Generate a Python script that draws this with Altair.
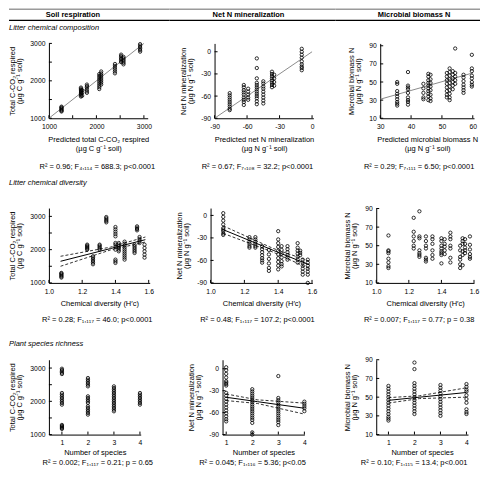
import altair as alt
import pandas as pd

FONT = "Liberation Sans"
SUB = str.maketrans("0123456789", "\u2080\u2081\u2082\u2083\u2084\u2085\u2086\u2087\u2088\u2089")

# ---------------- texts ----------------
col_headers = ["Soil respiration", "Net N mineralization", "Microbial biomass N"]
row_titles = ["Litter chemical composition", "Litter chemical diversity", "Plant species richness"]
y_titles = [["Total C-CO\u2082 respired", "(\u00b5g C g\u207b\u00b9 soil)"],
            ["Net N mineralization", "(\u00b5g N g\u207b\u00b9 soil)"],
            ["Microbial biomass N", "(\u00b5g N g\u207b\u00b9 soil)"]]
x_titles = [
    [["Predicted total C-CO\u2082 respired", "(\u00b5g C g\u207b\u00b9 soil)"],
     ["Predicted net N mineralization", "(\u00b5g N g\u207b\u00b9 soil)"],
     ["Predicted microbial biomass N", "(\u00b5g N g\u207b\u00b9 soil)"]],
    ["Chemical diversity (H\u2032c)"] * 3,
    ["Number of species"] * 3,
]
stat_r2 = [["0.96", "0.67", "0.29"], ["0.28", "0.48", "0.007"], ["0.002", "0.045", "0.10"]]
stat_df = [["4,114", "7,108", "7,111"], ["1,117", "1,117", "1,117"], ["1,117", "1,116", "1,115"]]
stat_f = [["688.3", "32.2", "6.50"], ["46.0", "107.2", "0.77"], ["0.21", "5.36", "13.4"]]
stat_p = [["p<0.0001", "p<0.0001", "p<0.0001"], ["p<0.0001", "p<0.0001", "p = 0.38"],
          ["p = 0.65", "p<0.05", "p<0.001"]]

# ---------------- data: row 1, litter chemical composition ----------------
resp_comp_x = [1265, 1675, 1700, 1800, 2060, 2100, 2390, 2520, 2570, 2920]
resp_comp_y = [
    [1180, 1200, 1220, 1245, 1270, 1290, 1310],
    [1580, 1610, 1640, 1670, 1700, 1730, 1760, 1790, 1820],
    [1600, 1680, 1750],
    [1680, 1720, 1770, 1820, 1860, 1900],
    [1780, 1830, 1880, 1930, 1980, 2030, 2080, 2130, 2180],
    [1900, 1950, 2000, 2050, 2100, 2150, 2200, 2250],
    [2200, 2250, 2300, 2350, 2400, 2450],
    [2500, 2540, 2580, 2620, 2660, 2700],
    [2440, 2480, 2520, 2560, 2600, 2640],
    [2780, 2820, 2860, 2900, 2940, 2980],
]
netn_comp_x = [-76, -63, -59, -51, -45, -37, -35, -9.5]
netn_comp_y = [
    [-56, -59, -62, -65, -68, -71, -74, -77, -79],
    [-45, -48, -52, -55, -58, -62, -65, -68, -72],
    [-50, -54, -58, -62, -65],
    [-9, -22, -36, -42, -45, -48, -51, -54, -57, -60, -63, -67, -71],
    [-40, -43, -47, -50, -54, -58, -62, -66, -70],
    [-27, -30, -33, -36, -39, -42, -45, -48],
    [-31, -36, -41, -46],
    [4, 0, -4, -8, -13, -17, -20, -22, -25],
]
mbn_comp_x = [35.5, 39, 44, 45.6, 46.3, 51.6, 52.5, 53.5, 54.3, 57, 59.7]
mbn_comp_y = [
    [50, 48, 40, 37, 34, 31, 28, 26, 24],
    [61, 46, 44, 42, 38, 33, 30, 28, 25],
    [48, 43, 38, 33, 31],
    [59, 56, 52, 49, 46, 43, 40, 37, 34, 30],
    [58, 53, 49, 45, 41, 36, 32, 29],
    [60, 56, 52, 48, 44, 40, 36, 33],
    [65, 61, 57, 53, 49, 45, 41, 37, 33, 30],
    [62, 58, 54, 50, 46, 42],
    [87, 60, 56, 52, 48],
    [58, 55, 51, 47, 44, 41, 38],
    [80, 65, 62, 57, 54, 50, 47, 45],
]
resp_comp_line_x, resp_comp_line_y = [1000, 3000], [1000, 3000]
netn_comp_line_x, netn_comp_line_y = [-90, 0], [-90, 0]
mbn_comp_line_x, mbn_comp_line_y = [30, 60], [31, 60]

# ---------------- data: row 2, litter chemical diversity ----------------
chem_div_x = [1.075, 1.23, 1.265, 1.305, 1.345, 1.40, 1.42, 1.455, 1.515, 1.53, 1.545, 1.575]
resp_div_y = [
    [1160, 1190, 1220, 1250, 1280, 1300],
    [2000, 2030, 2060, 2090, 2120, 2150],
    [1560, 1610, 1660, 1710, 1760, 1800],
    [2000, 2040, 2080, 2120, 2150],
    [2820, 2860, 2900, 2940, 2980],
    [1600, 1650, 1700, 2000, 2080, 2150, 2200, 2400, 2470, 2540, 2610, 2680],
    [1950, 2000, 2050, 2100, 2150, 2200],
    [1700, 1760, 1820, 1880, 1940, 2000, 2060, 2120, 2180, 2240],
    [1900, 1950, 2000, 2050, 2100, 2150],
    [2580, 2620, 2660, 2700],
    [2200, 2260, 2320, 2380],
    [1760, 1850, 1950, 2050, 2150],
]
netn_div_y = [
    [3, -2, -7, -12, -17, -19, -21, -24, -26],
    [-29, -32, -35, -38, -41, -43],
    [-29, -32, -35, -38, -41, -43],
    [-41, -45, -49, -53, -57, -60, -63],
    [-46, -52, -58, -64, -70, -74],
    [-21, -32, -37, -42, -47, -52, -57, -62, -67, -72],
    [-41, -46, -51, -56, -61, -65, -68],
    [-41, -45, -49, -53, -56, -59],
    [-37, -43, -47, -51, -55, -59, -63],
    [-47, -50, -53],
    [-59, -63, -67, -71, -75, -79],
    [-59, -63, -67, -71, -75, -79, -90],
]
mbn_div_y = [
    [61, 45, 44, 42, 36, 32, 28, 26],
    [80, 65, 60, 55, 50, 47],
    [87, 60, 58, 45, 42, 40, 38],
    [60, 55, 50, 47, 37, 35, 33],
    [60, 57, 52, 45, 40, 36],
    [58, 55, 50, 47, 44, 42, 40, 31],
    [57, 52, 49, 45, 41],
    [64, 60, 57, 50, 47, 37, 32],
    [50, 45, 38, 35, 30, 26],
    [58, 55, 52, 44, 40, 29],
    [57, 52, 48, 45, 42],
    [60, 51, 46, 41, 38, 36],
]
resp_div_fit_x = [1.07, 1.37, 1.58]
resp_div_fit = [1650, 2032, 2300]
resp_div_upper = [1800, 2075, 2380]
resp_div_lower = [1500, 1990, 2230]
netn_div_fit_x = [1.075, 1.37, 1.585]
netn_div_fit = [-19, -46.5, -66]
netn_div_upper = [-14, -44, -61]
netn_div_lower = [-24, -49, -71]

# ---------------- data: row 3, plant species richness ----------------
species_x = [1, 2, 3, 4]
resp_sp_y = [
    [2820, 2860, 2900, 2940, 2980, 1900, 1950, 2000, 2050, 2100, 2150, 2200, 2250, 1170, 1200, 1230, 1260, 1290],
    [2450, 2500, 2550, 2600, 2650, 2700, 1950, 2000, 2050, 2100, 2150, 1600, 1650, 1700, 1750, 1800, 1850],
    [1700, 1750, 1800, 1850, 1900, 1950, 2000, 2050, 2100, 2150, 2200, 2250, 2300, 2350, 2400, 2450],
    [1900, 1950, 2000, 2050, 2100, 2150, 2200, 2250],
]
netn_sp_y = [
    [2, -2, -7, -12, -17, -19, -21, -23, -33, -37, -41, -45, -49, -53, -57, -61, -65, -69, -72],
    [-28, -31, -34, -37, -40, -43, -46, -49, -52, -55, -58, -61, -64, -67, -70, -74, -87, -90],
    [-10, -40, -43, -46, -49, -52, -55, -58, -61, -64, -67, -70, -73, -77],
    [-45, -48, -51, -54, -58],
]
mbn_sp_y = [
    [62, 59, 56, 53, 50, 47, 44, 41, 38, 35, 32, 29, 27, 25],
    [87, 80, 65, 62, 59, 56, 53, 50, 47, 44, 41, 38, 35, 32],
    [63, 60, 57, 54, 51, 48, 45, 42, 39, 36, 33, 30],
    [64, 61, 58, 56, 52, 48, 44, 37, 34, 32],
]
netn_sp_fit_x = [1, 2.2, 4]
netn_sp_fit = [-39, -45, -54]
netn_sp_upper = [-34.5, -42.5, -47]
netn_sp_lower = [-43.5, -47.5, -62]
mbn_sp_fit_x = [1, 2.2, 4]
mbn_sp_fit = [46.6, 50, 55]
mbn_sp_upper = [49.5, 51.5, 60]
mbn_sp_lower = [43.7, 48.5, 50]

# ---------------- axes ----------------
x_domains = [[[1000, 3080], [-90, 1.2], [30, 60.4]],
             [[1.0, 1.606], [1.0, 1.602], [1.0, 1.6]],
             [[0.5, 4.03], [0.86, 4.0], [0.53, 4.06]]]
y_domains = [[[1000, 3000], [-90, 11.3], [10, 92.6]],
             [[1000, 3250], [-90, 9.8], [10, 90.5]],
             [[1000, 3250], [-90, 12.3], [10, 90]]]
y_ticks = [[1000, 1500, 2000, 2500, 3000], [-90, -60, -30, 0], [10, 30, 50, 70, 90]]
y_labels = [[1000, 2000, 3000], [-90, -60, -30, 0], [10, 30, 50, 70, 90]]
x_ticks = [[[1000, 1500, 2000, 2500, 3000], [-90, -60, -30, 0], [30, 40, 50, 60]],
           [[1.0, 1.2, 1.4, 1.6]] * 3,
           [[1, 2, 3, 4]] * 3]
x_labels = [[[1000, 2000, 3000], [-90, -60, -30, 0], [30, 40, 50, 60]],
            [[1.0, 1.2, 1.4, 1.6]] * 3,
            [[1, 2, 3, 4]] * 3]
x_formats = ["d", ".1f", "d"]


def clusters(xs, ys):
    return pd.DataFrame([(x, y) for x, yl in zip(xs, ys) for y in yl], columns=["x", "y"])


points = [
    [clusters(resp_comp_x, resp_comp_y), clusters(netn_comp_x, netn_comp_y), clusters(mbn_comp_x, mbn_comp_y)],
    [clusters(chem_div_x, resp_div_y), clusters(chem_div_x, netn_div_y), clusters(chem_div_x, mbn_div_y)],
    [clusters(species_x, resp_sp_y), clusters(species_x, netn_sp_y), clusters(species_x, mbn_sp_y)],
]
one_to_one = [(resp_comp_line_x, resp_comp_line_y), (netn_comp_line_x, netn_comp_line_y),
              (mbn_comp_line_x, mbn_comp_line_y)]
fits = {
    (1, 0): (resp_div_fit_x, resp_div_fit, resp_div_upper, resp_div_lower),
    (1, 1): (netn_div_fit_x, netn_div_fit, netn_div_upper, netn_div_lower),
    (2, 1): (netn_sp_fit_x, netn_sp_fit, netn_sp_upper, netn_sp_lower),
    (2, 2): (mbn_sp_fit_x, mbn_sp_fit, mbn_sp_upper, mbn_sp_lower),
}

# ---------------- layout (page pixels) ----------------
H = 75
RIGHT = 480
ROW_TOP = [43, 208, 360]
ROW_BOX = [(8, 177), (177, 336), (336, 467.5)]
COL_X = [[48, 214, 380], [48, 210, 376], [48, 222, 376]]
COL_W = [[99, 99, 94], [101, 102, 98], [92, 82, 92]]
HEADER_X = [72, 248, 414]
HEADER_Y = 14.5
ROW_TITLE_Y = [28, 183, 344]
STATS_X = [[96.5, 257, 419], [96.5, 257, 419], [97, 252, 414]]
STATS_Y = [166.5, 320, 463.5]
X_LABEL_PAD = [5, 5.5, 4.5]
X_TITLE_PAD = [5, 4, 3]

MINUS = "replace(datum.label, '\u2212', '-')"


def text_layer(txt, x, y, size=7.5, align="center", weight="normal", style="normal"):
    return alt.Chart(pd.DataFrame({"t": [txt]})).mark_text(
        font=FONT, fontSize=size, align=align, baseline="middle", fontWeight=weight,
        fontStyle=style, color="black"
    ).encode(text="t:N", x=alt.value(x), y=alt.value(y))


def panel(r, c):
    ox, W, oy = COL_X[r][c], COL_W[r][c], ROW_TOP[r]
    bl = 8 if c == 0 else ox - 45
    br = RIGHT if c == 2 else COL_X[r][c + 1] - 45
    bt, bb = ROW_BOX[r]
    L, R, T, B = ox - bl, br - (ox + W), oy - bt, bb - (oy + H)

    xaxis = alt.Axis(title=x_titles[r][c], values=x_labels[r][c], format=x_formats[r],
                     ticks=False, tickSize=0, grid=False, domainColor="black", domainWidth=1,
                     labelFont=FONT, labelFontSize=6.8, labelColor="black", labelPadding=X_LABEL_PAD[r],
                     labelFlush=False, labelOverlap=False, labelExpr=MINUS,
                     titleFont=FONT, titleFontSize=7.5, titleFontWeight="normal", titleColor="black",
                     titlePadding=X_TITLE_PAD[r], titleLineHeight=10)
    yaxis = alt.Axis(title=y_titles[c], values=y_labels[c], format="d",
                     ticks=False, tickSize=0, grid=False, domainColor="black", domainWidth=1,
                     labelFont=FONT, labelFontSize=6.8, labelColor="black", labelPadding=4,
                     labelFlush=False, labelOverlap=False, labelExpr=MINUS,
                     titleFont=FONT, titleFontSize=7.5, titleFontWeight="normal", titleColor="black",
                     titlePadding=6, titleLineHeight=7)
    X = alt.X("x:Q", scale=alt.Scale(domain=x_domains[r][c], nice=False, zero=False), axis=xaxis)
    Y = alt.Y("y:Q", scale=alt.Scale(domain=y_domains[r][c], nice=False, zero=False), axis=yaxis)

    one = pd.DataFrame({"a": [0]})
    layers = [alt.Chart(one).mark_rect(opacity=0).encode(
        x=alt.value(-L), x2=alt.value(W + R), y=alt.value(-T), y2=alt.value(H + B))]

    if r == 0:
        layers.append(alt.Chart(one).mark_rect(color="#9a9a9a").encode(
            x=alt.value(-L), x2=alt.value(W + R), y=alt.value(-T), y2=alt.value(-T + 1.4)))
        layers.append(alt.Chart(one).mark_rect(color="black").encode(
            x=alt.value(-L), x2=alt.value(W + R), y=alt.value(19.3 - oy), y2=alt.value(20.6 - oy)))
        layers.append(text_layer(col_headers[c], HEADER_X[c] - ox, HEADER_Y - oy, weight="bold"))
    if c == 0:
        layers.append(text_layer(row_titles[r], 8 - ox, ROW_TITLE_Y[r] - oy, align="left", style="italic"))

    # 1:1 or regression lines
    if r == 0:
        lx, ly = one_to_one[c]
        layers.append(alt.Chart(pd.DataFrame({"x": lx, "y": ly})).mark_line(
            color="#8c8c8c", strokeWidth=1).encode(x=X, y=Y))
    if (r, c) in fits:
        fx, fy, fu, fl = fits[(r, c)]
        layers.append(alt.Chart(pd.DataFrame({"x": fx, "y": fy})).mark_line(
            color="black", strokeWidth=1).encode(x=X, y=Y))
        band = pd.DataFrame({"x": fx + fx, "y": fu + fl, "k": ["u"] * len(fx) + ["l"] * len(fx)})
        layers.append(alt.Chart(band).mark_line(color="black", strokeWidth=0.8, strokeDash=[3, 2]).encode(
            x=X, y=Y, detail="k:N"))

    layers.append(alt.Chart(points[r][c]).mark_point(
        shape="circle", filled=False, color="black", size=11, strokeWidth=0.8, opacity=1).encode(x=X, y=Y))

    # inward ticks
    layers.append(alt.Chart(pd.DataFrame({"x": x_ticks[r][c]})).mark_rule(color="black", strokeWidth=1).encode(
        x=X, y=alt.value(H), y2=alt.value(H - 3)))
    layers.append(alt.Chart(pd.DataFrame({"y": y_ticks[c]})).mark_rule(color="black", strokeWidth=1).encode(
        y=Y, x=alt.value(0), x2=alt.value(3)))

    stat = f"R\u00b2 = {stat_r2[r][c]}; F{stat_df[r][c].translate(SUB)} = {stat_f[r][c]}; {stat_p[r][c]}"
    layers.append(text_layer(stat, STATS_X[r][c] - ox, STATS_Y[r] - oy))

    return alt.layer(*layers).properties(width=W, height=H)


rows = [alt.hconcat(*[panel(r, c) for c in range(3)], spacing=0) for r in range(3)]
chart = alt.vconcat(*rows, spacing=0).properties(padding=0).configure_view(stroke=None)
chart.save("out.html", embed_options={"renderer": "svg", "actions": False})
